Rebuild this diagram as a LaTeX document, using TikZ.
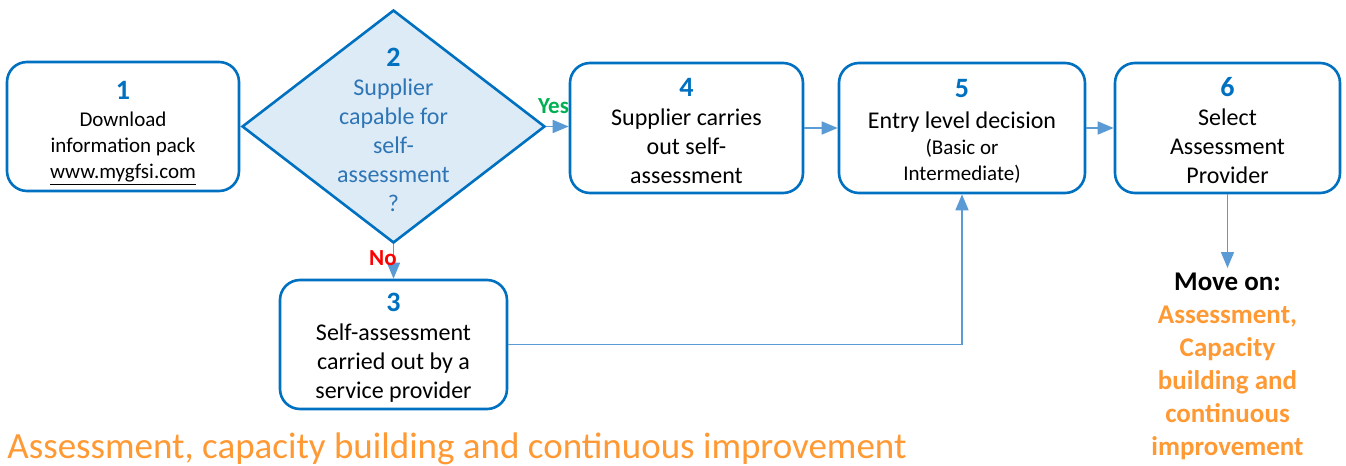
\documentclass[tikz,border=0pt]{standalone}
\usepackage{fontspec}
\setmainfont{Carlito}
\usetikzlibrary{arrows.meta,shapes.geometric}
\definecolor{boxblue}{RGB}{0,112,192}
\definecolor{qblue}{RGB}{46,117,182}
\definecolor{qfill}{RGB}{221,235,247}
\definecolor{arrowblue}{RGB}{91,155,213}
\definecolor{movegold}{RGB}{255,153,51}
\definecolor{yesgreen}{RGB}{0,176,80}
\definecolor{nored}{RGB}{255,0,0}
\newcommand{\stepnum}[1]{\rule{0pt}{12.5pt}{\fontsize{14}{14}\selectfont\bfseries\color{boxblue}#1}}
\newcommand{\smalltxt}{\fontsize{10.5}{12.5}\selectfont}

\begin{document}
\begin{tikzpicture}[x=0.5pt, y=-0.5pt,
    stepbox/.style={draw=boxblue, line width=1.3pt, rounded corners=10pt, fill=white,
        align=center, inner sep=0pt, font=\fontsize{12}{14.5}\selectfont},
    decision/.style={diamond, draw=boxblue, line width=1.3pt, fill=qfill,
        minimum width=151.5pt, minimum height=116.5pt, inner sep=0pt},
    flow/.style={draw=arrowblue, line width=0.8pt, -{Triangle[length=8pt,width=6.5pt]}}]
    \useasboundingbox (0,0) rectangle (1346,466);

    % Steps
    \node[stepbox, minimum width=116pt, minimum height=64.5pt, font=\fontsize{10.5}{13}\selectfont]
        (b1) at (123,126.5) {\rule{0pt}{16pt}\stepnum{1}\\[0.5pt]Download\\information pack\\\underline{www.mygfsi.com}};
    \node[decision] (d2) at (393.5,126.5) {};
    \node[align=center, inner sep=0pt, text=qblue, font=\fontsize{12}{14.5}\selectfont]
        (q2) at (d2) {\stepnum{2}\\Supplier\\capable for\\self-\\assessment\\?};
    \node[stepbox, minimum width=113.5pt, minimum height=64.5pt]
        (b3) at (393.5,344.5) {\stepnum{3}\\Self-assessment\\carried out by a\\service provider};
    \node[stepbox, minimum width=116.5pt, minimum height=65pt]
        (b4) at (686.5,128) {\stepnum{4}\\Supplier carries\\out self-\\assessment};
    \node[stepbox, minimum width=123pt, minimum height=65pt]
        (b5) at (962,128) {\stepnum{5}\\[1pt]Entry level decision\\[-1.5pt]{\smalltxt (Basic or}\\[-1.5pt]{\smalltxt Intermediate)}};
    \node[stepbox, minimum width=112.5pt, minimum height=65pt]
        (b6) at (1227.5,128) {\stepnum{6}\\Select\\Assessment\\Provider};

    % Next stage
    \node[anchor=north, align=center, inner xsep=0pt, inner ysep=2.5pt,
        font=\fontsize{13.5}{16.5}\selectfont\bfseries]
        (next) at (1227.5,268) {Move on:\\\textcolor{movegold}{Assessment,}\\\textcolor{movegold}{Capacity}\\
        \textcolor{movegold}{building and}\\\textcolor{movegold}{continuous}\\\textcolor{movegold}{improvement}};
    \node[anchor=base west, inner sep=0pt, text=movegold, font=\fontsize{18.5}{22}\selectfont]
        (title) at (7,458) {Assessment, capacity building and continuous improvement};

    % Connectors
    \draw[flow] (d2.east) -- (d2.east -| b4.west);
    \foreach \a/\b in {b4/b5, b5/b6} {
        \draw[flow] (\a) -- (\b);
    }
    \draw[flow] (d2) -- (b3);
    \draw[flow] (b3) -| (b5);
    \draw[flow] (b6) -- (next);

    % Answers
    \node[inner sep=0pt, text=yesgreen, font=\fontsize{11.5}{12}\selectfont\bfseries] (yes) at (553.5,106) {Yes};
    \node[inner sep=0pt, text=nored, font=\fontsize{11.5}{12}\selectfont\bfseries] (no) at (383,258.5) {No};
\end{tikzpicture}
\end{document}
